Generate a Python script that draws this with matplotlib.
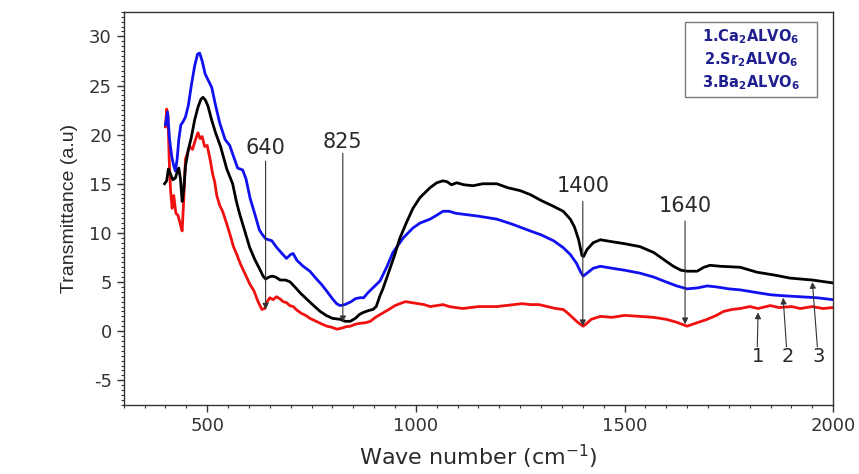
import numpy as np
import matplotlib.pyplot as plt
from matplotlib.ticker import MultipleLocator
from matplotlib.patches import Rectangle

plt.rcParams['font.family'] = ['DejaVu Sans']
plt.rcParams['axes.unicode_minus'] = False
plt.rcParams['mathtext.fontset'] = 'custom'
plt.rcParams['mathtext.rm'] = 'DejaVu Sans'
plt.rcParams['mathtext.bf'] = 'DejaVu Sans:bold'

# 1. Ca2ALVO6 (red)
ca_x = [400, 403, 406, 409, 412, 416, 420, 425, 430, 435, 440, 444, 448, 452, 458, 465, 472, 478, 483, 488,
        494, 500, 507, 513, 518, 523, 530, 537, 547, 555, 563, 571, 580, 590, 602, 612, 622, 631, 638, 644,
        650, 658, 666, 674, 682, 690, 698, 706, 716, 726, 736, 746, 756, 766, 776, 787, 798, 811, 822, 833,
        843, 855, 867, 879, 891, 903, 915, 927, 939, 950, 962, 975, 990, 1005, 1020, 1034, 1050, 1065, 1080,
        1095, 1113, 1130, 1150, 1170, 1194, 1215, 1235, 1255, 1274, 1295, 1315, 1335, 1353, 1365, 1375, 1385,
        1394, 1401, 1410, 1420, 1442, 1470, 1500, 1537, 1570, 1600, 1625, 1650, 1670, 1698, 1720, 1737, 1757,
        1777, 1800, 1820, 1849, 1870, 1900, 1921, 1950, 1975, 2000]
ca_y = [20.8, 22.6, 22.0, 17.5, 14.5, 12.5, 13.8, 12.0, 11.8, 11.0, 10.2, 13.5, 17.5, 18.0, 18.8, 18.5, 19.5, 20.2, 19.6, 19.8,
        18.8, 18.9, 17.5, 16.0, 15.2, 13.8, 12.8, 12.2, 10.9, 9.8, 8.6, 7.8, 6.8, 5.9, 4.8, 4.1, 3.0, 2.2, 2.3, 3.0,
        3.4, 3.2, 3.5, 3.3, 3.0, 2.9, 2.6, 2.5, 2.1, 1.8, 1.6, 1.3, 1.1, 0.9, 0.7, 0.5, 0.4, 0.2, 0.3, 0.45,
        0.5, 0.7, 0.8, 0.85, 1.0, 1.4, 1.7, 2.0, 2.3, 2.6, 2.8, 3.0, 2.9, 2.8, 2.7, 2.5, 2.6, 2.7, 2.5,
        2.4, 2.3, 2.4, 2.5, 2.5, 2.5, 2.6, 2.7, 2.8, 2.7, 2.7, 2.5, 2.3, 2.2, 1.8, 1.4, 1.0,
        0.7, 0.5, 0.8, 1.2, 1.5, 1.4, 1.6, 1.5, 1.4, 1.2, 0.9, 0.5, 0.8, 1.2, 1.6, 2.0, 2.2,
        2.3, 2.5, 2.3, 2.6, 2.4, 2.5, 2.3, 2.5, 2.3, 2.4]

# 2. Sr2ALVO6 (blue)
sr_x = [400, 405, 410, 415, 420, 424, 428, 432, 437, 442, 448, 455, 462, 470, 477, 482, 488, 495, 503, 511,
        520, 530, 543, 554, 563, 573, 585, 593, 603, 615, 625, 631, 640, 655, 665, 675, 690, 700, 706, 715,
        730, 746, 760, 775, 786, 800, 810, 818, 830, 845, 855, 866, 875, 885, 897, 914, 930, 945, 955, 970,
        993, 1010, 1034, 1050, 1065, 1080, 1095, 1113, 1150, 1194, 1230, 1274, 1300, 1330, 1353, 1370, 1385,
        1395, 1401, 1410, 1425, 1442, 1470, 1500, 1537, 1570, 1600, 1625, 1650, 1675, 1698, 1720, 1750, 1777,
        1820, 1850, 1880, 1920, 1960, 2000]
sr_y = [21.0, 22.3, 19.5, 17.8, 16.8, 16.3, 17.5, 19.5, 21.0, 21.3, 21.8, 23.0, 25.0, 27.0, 28.2, 28.3, 27.5, 26.2, 25.5, 24.8,
        23.0, 21.2, 19.5, 18.9, 17.8, 16.6, 16.4, 15.5, 13.5, 11.8, 10.3, 9.9, 9.4, 9.2, 8.6, 8.1, 7.4, 7.8, 7.9, 7.2,
        6.6, 6.1, 5.4, 4.7, 4.1, 3.3, 2.8, 2.6, 2.7, 3.0, 3.3, 3.4, 3.4, 3.9, 4.4, 5.1, 6.5, 8.0, 8.6, 9.5,
        10.5, 11.0, 11.4, 11.8, 12.2, 12.2, 12.0, 11.9, 11.7, 11.4, 10.9, 10.2, 9.8, 9.2, 8.5, 7.8, 6.9,
        6.0, 5.6, 5.9, 6.4, 6.6, 6.4, 6.2, 5.9, 5.5, 5.0, 4.6, 4.3, 4.4, 4.6, 4.5, 4.3, 4.2,
        3.9, 3.7, 3.6, 3.5, 3.4, 3.2]

# 3. Ba2ALVO6 (black)
ba_x = [398, 403, 407, 412, 418, 424, 428, 432, 436, 440, 444, 448, 455, 462, 470, 478, 485, 490, 496, 502,
        510, 520, 532, 547, 561, 570, 578, 590, 602, 614, 626, 634, 640, 648, 656, 664, 675, 688, 699, 710,
        725, 740, 755, 771, 785, 800, 819, 830, 843, 855, 865, 874, 887, 897, 905, 914, 921, 935, 948, 962,
        978, 993, 1010, 1034, 1050, 1065, 1075, 1085, 1098, 1115, 1137, 1160, 1194, 1220, 1250, 1274, 1300,
        1330, 1353, 1370, 1380, 1390, 1398, 1402, 1410, 1425, 1442, 1470, 1500, 1537, 1570, 1600, 1617, 1635,
        1650, 1674, 1690, 1705, 1730, 1777, 1817, 1860, 1896, 1950, 2000]
ba_y = [15.0, 15.3, 16.5, 16.0, 15.4, 15.6, 16.2, 16.6, 15.5, 13.2, 14.5, 16.8, 18.5, 19.7, 21.5, 22.8, 23.6, 23.8, 23.5, 22.9,
        21.6, 20.2, 18.8, 16.5, 15.0, 13.2, 11.9, 10.2, 8.5, 7.3, 6.3, 5.6, 5.3, 5.5, 5.6, 5.5, 5.2, 5.2, 5.0, 4.5,
        3.8, 3.2, 2.6, 2.0, 1.6, 1.3, 1.2, 1.0, 1.0, 1.3, 1.7, 1.9, 2.1, 2.2, 2.5, 3.6, 4.3, 6.0, 7.6, 9.5,
        11.1, 12.5, 13.6, 14.6, 15.1, 15.3, 15.2, 14.9, 15.1, 14.9, 14.8, 15.0, 15.0, 14.6, 14.3, 13.9, 13.3,
        12.7, 12.2, 11.4, 10.6, 9.3, 7.7, 7.6, 8.3, 9.0, 9.3, 9.1, 8.9, 8.6, 8.0, 7.1, 6.6, 6.2,
        6.1, 6.1, 6.5, 6.7, 6.6, 6.5, 6.0, 5.7, 5.4, 5.2, 4.9]

legend_labels = [r'1.Ca$_\mathbf{2}$ALVO$_\mathbf{6}$',
                 r'2.Sr$_\mathbf{2}$ALVO$_\mathbf{6}$',
                 r'3.Ba$_\mathbf{2}$ALVO$_\mathbf{6}$']

# band positions marked with arrows: (label, x, text y, arrow top, arrow tip)
bands = [('640', 640, 18.6, 17.3, 2.2),
         ('825', 825, 19.3, 18.1, 0.9),
         ('1400', 1400, 14.75, 13.2, 0.5),
         ('1640', 1645, 12.7, 11.2, 0.7)]

# curve number labels: (label, text x, arrow tip x, arrow tip y)
curve_tags = [('1', 1820, 1820, 1.9),
              ('2', 1890, 1880, 3.4),
              ('3', 1964, 1950, 5.0)]

fig = plt.figure(figsize=(8.59, 4.74), dpi=100)
ax = fig.add_axes([0.144, 0.146, 0.826, 0.829])

ax.plot(ca_x, ca_y, color='#f01010', lw=2.0)
ax.plot(sr_x, sr_y, color='#1010f0', lw=2.0)
ax.plot(ba_x, ba_y, color='black', lw=2.0)

txt_col = '#2a2a2a'
arrow_kw = dict(arrowstyle='-|>', color='#333333', lw=0.8, mutation_scale=9, shrinkA=0, shrinkB=0)

for lab, xb, ty, y0, y1 in bands:
    ax.text(xb, ty, lab, ha='center', va='center', fontsize=15, color=txt_col)
    ax.annotate('', xy=(xb, y1), xytext=(xb, y0), arrowprops=arrow_kw)

for lab, tx, ax_x, ay in curve_tags:
    ax.text(tx, -2.6, lab, ha='center', va='center', fontsize=14, color=txt_col)
    ax.annotate('', xy=(ax_x, ay), xytext=(tx - 2, -1.6), arrowprops=arrow_kw)

# legend box
ax.add_patch(Rectangle((0.791, 0.784), 0.186, 0.191, transform=ax.transAxes,
                       fill=False, edgecolor='#777777', lw=1.0))
for i, lab in enumerate(legend_labels):
    ax.text(0.884, 0.936 - i * 0.058, lab, transform=ax.transAxes, ha='center', va='center',
            fontsize=10.5, fontweight='bold', color='#1f1f8f')

ax.set_xlim(300, 2000)
ax.set_ylim(-7.5, 32.5)
ax.xaxis.set_major_locator(MultipleLocator(500))
ax.xaxis.set_minor_locator(MultipleLocator(50))
ax.yaxis.set_major_locator(MultipleLocator(5))
ax.yaxis.set_minor_locator(MultipleLocator(0.5))
ax.tick_params(which='major', direction='out', length=5, width=1, labelsize=13, colors='#333333')
ax.tick_params(which='minor', direction='out', length=2.5, width=0.8, colors='#333333')
for s in ax.spines.values():
    s.set_color('#333333')
    s.set_linewidth(1.0)

ax.set_xlabel('Wave number (cm$^{-1}$)', fontsize=16, color=txt_col, labelpad=6)
ax.set_ylabel('Transmittance (a.u)', fontsize=14, color=txt_col, labelpad=8,
              family='Liberation Sans')

fig.savefig('out.png', dpi=100)
